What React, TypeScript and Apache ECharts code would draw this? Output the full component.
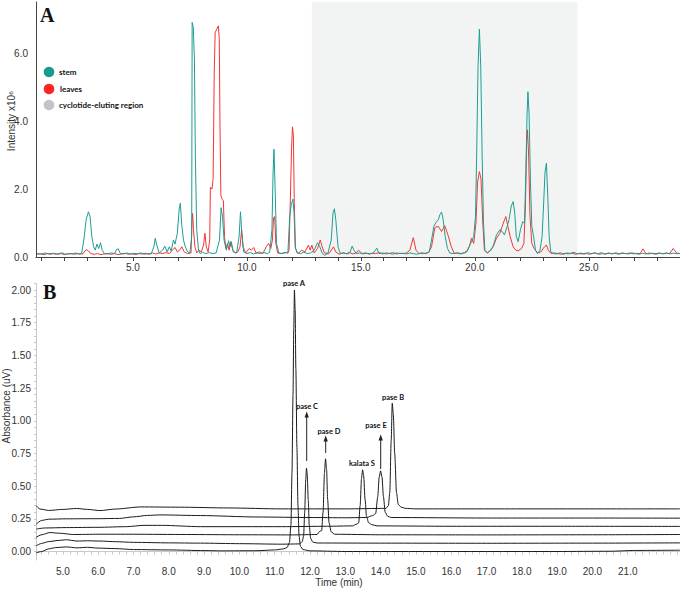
import React, { useEffect, useRef } from "react";
import * as echarts from "echarts";

// ---------- Panel A data (time in min, intensity x10^6) ----------
const stemPoints: number[][] = [
  [0.8,0.1],[1.0,0.08],[1.15,0.12],[1.3,0.09],[1.45,0.11],[1.6,0.08],[1.75,0.1],[1.9,0.12],[2.05,0.08],[2.2,0.1],[2.35,0.09],[2.5,0.12],[2.65,0.08],[2.75,0.1],
  [2.85,0.5],[2.95,1.1],[3.05,1.33],[3.12,1.2],[3.2,0.6],[3.28,0.3],[3.35,0.2],[3.42,0.38],[3.5,0.25],[3.58,0.42],[3.65,0.2],[3.75,0.1],
  [3.9,0.09],[4.05,0.12],[4.2,0.1],[4.28,0.22],[4.36,0.24],[4.45,0.1],[4.6,0.09],[4.75,0.12],[4.9,0.08],[5.05,0.11],[5.2,0.09],[5.35,0.12],[5.5,0.08],[5.65,0.1],[5.8,0.09],
  [5.92,0.3],[5.98,0.55],[6.05,0.35],[6.15,0.12],[6.3,0.2],[6.4,0.32],[6.5,0.15],[6.6,0.3],[6.68,0.18],[6.78,0.5],[6.85,0.38],[6.95,0.7],[7.03,1.4],[7.08,1.58],[7.15,0.9],[7.22,0.5],[7.3,0.3],[7.4,0.15],[7.5,0.12],
  [7.58,0.6],[7.6,6.9],[7.65,6.75],[7.7,5.8],[7.74,3.0],[7.8,0.8],[7.88,0.2],[7.95,0.1],[8.05,0.14],[8.2,0.1],[8.35,0.13],[8.5,0.1],[8.65,0.12],
  [8.8,0.5],[8.87,1.45],[8.93,1.2],[9.0,0.5],[9.1,0.2],[9.2,0.48],[9.26,0.3],[9.32,0.45],[9.4,0.15],[9.55,0.12],[9.66,0.6],[9.72,1.33],[9.78,0.7],[9.86,0.15],
  [10.0,0.1],[10.15,0.13],[10.3,0.09],[10.45,0.12],[10.6,0.1],[10.75,0.13],[10.9,0.1],[11.0,0.14],[11.1,0.8],[11.15,2.5],[11.19,3.17],[11.24,2.0],[11.3,0.4],[11.4,0.12],[11.55,0.1],[11.7,0.13],[11.8,0.12],
  [11.88,1.2],[11.95,1.55],[12.02,1.7],[12.07,1.3],[12.12,0.3],[12.2,0.12],[12.35,0.1],[12.5,0.14],[12.65,0.1],[12.8,0.12],[12.95,0.2],[13.1,0.42],[13.2,0.3],[13.3,0.12],[13.4,0.05],[13.55,0.1],
  [13.7,0.5],[13.78,1.3],[13.84,1.42],[13.9,1.1],[14.0,0.3],[14.1,0.1],[14.25,0.12],[14.4,0.09],[14.52,0.13],[14.62,0.32],[14.7,0.2],[14.8,0.1],[14.95,0.12],[15.1,0.09],[15.25,0.11],[15.4,0.09],[15.55,0.12],[15.7,0.26],[15.8,0.1],
  [15.95,0.12],[16.1,0.09],[16.25,0.11],[16.4,0.08],[16.55,0.12],[16.7,0.1],[16.85,0.11],[17.0,0.09],[17.15,0.12],[17.3,0.1],[17.45,0.08],[17.6,0.11],[17.75,0.1],[17.9,0.12],[18.0,0.15],
  [18.1,0.5],[18.2,0.9],[18.3,1.02],[18.4,1.1],[18.47,1.25],[18.54,1.32],[18.6,1.15],[18.7,0.6],[18.8,0.25],[18.9,0.12],[19.05,0.1],[19.2,0.12],[19.35,0.09],[19.5,0.11],[19.65,0.15],[19.75,0.3],[19.85,0.45],[19.95,0.6],
  [20.03,1.2],[20.08,3.0],[20.14,5.6],[20.2,6.7],[20.26,5.6],[20.32,3.0],[20.38,1.0],[20.44,0.2],[20.55,0.12],[20.7,0.2],[20.82,0.35],[20.95,0.65],[21.1,0.8],[21.2,0.75],[21.3,0.65],[21.42,0.9],[21.5,1.1],[21.6,1.5],[21.68,1.63],[21.75,1.3],[21.82,0.6],[21.9,0.45],
  [22.0,0.8],[22.1,1.04],[22.18,1.0],[22.24,2.5],[22.29,4.2],[22.33,4.86],[22.38,4.2],[22.44,2.2],[22.5,0.9],[22.58,0.6],[22.66,0.2],[22.75,0.1],[22.86,0.2],[22.95,0.6],[23.02,1.6],[23.08,2.5],[23.14,2.76],[23.2,1.8],[23.26,0.6],[23.33,0.15],[23.45,0.1],
  [23.6,0.09],[23.75,0.13],[23.9,0.08],[24.05,0.12],[24.2,0.1],[24.35,0.14],[24.5,0.09],[24.65,0.12],[24.8,0.08],[24.95,0.13],[25.1,0.1],[25.25,0.12],[25.4,0.09],[25.55,0.13],[25.7,0.08],[25.85,0.12],[26.0,0.09],[26.15,0.11],
  [26.3,0.08],[26.45,0.12],[26.6,0.1],[26.75,0.09],[26.9,0.12],[27.05,0.1],[27.2,0.08],[27.35,0.11],[27.5,0.09],[27.65,0.12],[27.8,0.1],[27.95,0.08],[28.1,0.11],[28.25,0.1],[28.4,0.12],[28.55,0.09],[28.7,0.11],[28.85,0.1],[29.0,0.1]
];

const leavesPoints: number[][] = [
  [0.8,0.08],[0.95,0.1],[1.1,0.07],[1.25,0.1],[1.4,0.08],[1.55,0.11],[1.7,0.08],[1.85,0.1],[2.0,0.07],[2.15,0.09],[2.3,0.1],[2.45,0.08],[2.6,0.1],[2.8,0.09],[2.95,0.22],[3.05,0.18],[3.15,0.1],
  [3.3,0.08],[3.45,0.1],[3.6,0.07],[3.75,0.09],[3.9,0.1],[4.05,0.08],[4.2,0.1],[4.35,0.07],[4.5,0.09],[4.65,0.11],[4.8,0.08],[4.95,0.1],[5.1,0.07],[5.25,0.1],[5.4,0.09],[5.55,0.11],[5.7,0.08],[5.85,0.12],[6.0,0.09],[6.15,0.12],[6.3,0.1],[6.45,0.13],[6.6,0.1],
  [6.7,0.18],[6.85,0.28],[6.95,0.15],[7.05,0.2],[7.15,0.3],[7.25,0.15],[7.4,0.1],[7.55,0.12],[7.59,1.0],[7.62,1.28],[7.66,0.8],[7.72,0.3],[7.8,0.12],[7.9,0.2],[8.0,0.15],[8.1,0.35],[8.16,0.7],[8.22,0.3],[8.3,0.15],
  [8.37,0.5],[8.4,2.05],[8.47,2.0],[8.52,2.3],[8.57,5.5],[8.61,6.6],[8.68,6.7],[8.75,6.8],[8.79,6.4],[8.82,3.9],[8.86,1.8],[8.92,1.7],[8.97,1.65],[9.02,0.6],[9.08,0.25],[9.15,0.4],[9.22,0.2],[9.3,0.45],[9.38,0.2],[9.5,0.12],[9.6,0.15],[9.7,0.3],[9.77,0.8],[9.83,0.3],[9.95,0.12],
  [10.1,0.25],[10.2,0.2],[10.3,0.28],[10.4,0.12],[10.55,0.15],[10.7,0.1],[10.85,0.3],[10.95,0.4],[11.05,0.25],[11.12,0.5],[11.17,1.15],[11.22,1.19],[11.27,0.4],[11.35,0.12],[11.5,0.1],[11.65,0.13],[11.8,0.12],[11.85,0.2],
  [11.9,1.5],[11.96,3.2],[12.0,3.83],[12.04,3.6],[12.08,1.6],[12.13,0.25],[12.25,0.1],[12.4,0.2],[12.55,0.15],[12.7,0.35],[12.78,0.2],[12.85,0.35],[12.95,0.12],[13.1,0.25],[13.22,0.5],[13.3,0.3],[13.4,0.12],[13.6,0.1],[13.8,0.3],[13.9,0.15],
  [14.05,0.08],[14.2,0.12],[14.35,0.1],[14.5,0.13],[14.65,0.09],[14.8,0.12],[14.9,0.2],[15.05,0.1],[15.2,0.12],[15.35,0.09],[15.5,0.11],[15.65,0.1],[15.8,0.13],[15.95,0.09],[16.1,0.12],[16.25,0.1],[16.4,0.13],[16.55,0.09],[16.7,0.11],[16.85,0.1],[17.0,0.12],
  [17.15,0.2],[17.3,0.57],[17.42,0.2],[17.55,0.1],[17.7,0.12],[17.85,0.1],[17.98,0.14],[18.1,0.3],[18.25,0.87],[18.4,0.9],[18.54,0.75],[18.68,0.92],[18.82,0.65],[18.97,0.3],[19.1,0.1],[19.25,0.12],[19.4,0.1],[19.55,0.13],[19.68,0.2],[19.78,0.35],[19.85,0.55],[19.95,0.4],
  [20.05,1.0],[20.12,2.2],[20.2,2.51],[20.27,2.3],[20.35,1.0],[20.42,0.2],[20.55,0.12],[20.7,0.2],[20.8,0.3],[20.95,0.55],[21.1,0.7],[21.25,1.0],[21.36,1.19],[21.45,0.9],[21.55,0.6],[21.68,0.3],[21.8,0.2],[21.9,0.18],[22.05,0.25],[22.15,0.4],
  [22.22,1.5],[22.27,3.3],[22.31,3.74],[22.36,3.0],[22.42,1.2],[22.5,0.4],[22.6,0.25],[22.75,0.12],[22.9,0.15],[23.05,0.3],[23.14,0.35],[23.22,0.2],[23.35,0.1],[23.5,0.12],
  [23.65,0.1],[23.8,0.08],[23.95,0.11],[24.1,0.09],[24.25,0.12],[24.4,0.08],[24.55,0.1],[24.7,0.09],[24.85,0.11],[25.0,0.08],[25.15,0.1],[25.3,0.12],[25.45,0.08],[25.6,0.1],[25.75,0.09],[25.9,0.11],[26.05,0.1],[26.2,0.12],[26.35,0.09],[26.5,0.11],
  [26.65,0.1],[26.8,0.12],[26.95,0.09],[27.1,0.11],[27.25,0.1],[27.38,0.24],[27.5,0.1],[27.65,0.09],[27.8,0.11],[27.95,0.1],[28.1,0.12],[28.25,0.09],[28.4,0.11],[28.55,0.1],[28.7,0.25],[28.85,0.12],[29.0,0.1]
];

const cyclotideRegion = [12.85, 24.5];
const aXLabels = [5, 10, 15, 20, 25];
const aXTicks = [1,2,3,4,5,6,7,8,9,10,11,12,13,14,15,16,17,18,19,20,21,22,23,24,25,26,27,28];
const aYLabels = [0, 2, 4, 6];

// ---------- Panel B data (time in min, absorbance) ----------
const traceA: number[][] = [
  [4.25,-0.01],[4.4,0.0],[4.6,0.02],[4.8,0.03],[5.1,0.035],[5.4,0.028],[5.7,0.032],[6.0,0.026],[6.5,0.022],[7.0,0.015],[8.0,0.012],[9.0,0.007],[9.5,0.005],[10.5,0.006],[11.0,0.012],[11.25,0.02],
  [11.35,0.03],[11.42,0.07],[11.46,0.2],[11.49,0.6],[11.52,1.2],[11.54,1.7],[11.56,2.0],[11.58,1.85],[11.6,1.4],[11.63,0.8],[11.66,0.35],[11.69,0.12],[11.73,0.04],[11.8,0.015],[12.0,0.005],
  [13.0,0.0],[15.0,0.0],[17.0,0.0],[19.0,0.0],[20.5,0.002],[21.2,0.008],[22.48,0.01]
];
const traceC: number[][] = [
  [4.25,0.045],[4.4,0.062],[4.6,0.076],[4.9,0.085],[5.1,0.09],[5.4,0.08],[5.7,0.082],[6.05,0.08],[6.5,0.075],[7.0,0.07],[8.0,0.066],[8.9,0.064],[10.0,0.06],[11.2,0.056],[11.7,0.058],
  [11.78,0.075],[11.82,0.12],[11.85,0.3],[11.88,0.55],[11.9,0.637],[11.92,0.6],[11.95,0.4],[11.98,0.2],[12.02,0.1],[12.08,0.072],[12.2,0.065],[14.0,0.064],[17.0,0.063],[20.0,0.064],[22.48,0.066]
];
const traceD: number[][] = [
  [4.25,0.11],[4.4,0.128],[4.63,0.145],[4.9,0.14],[5.3,0.13],[6.0,0.132],[7.0,0.132],[8.5,0.13],[10.0,0.128],[11.5,0.127],[12.2,0.13],[12.28,0.155],[12.33,0.16],
  [12.37,0.3],[12.41,0.6],[12.44,0.709],[12.47,0.63],[12.5,0.4],[12.54,0.22],[12.6,0.15],[12.7,0.132],[14.0,0.128],[17.0,0.127],[20.0,0.128],[22.48,0.13]
];
const traceK: number[][] = [
  [4.25,0.172],[4.5,0.18],[5.1,0.183],[6.0,0.185],[6.8,0.19],[7.3,0.2],[7.8,0.2],[8.9,0.19],[11.2,0.19],[12.5,0.193],[13.2,0.196],[13.33,0.21],[13.38,0.22],
  [13.42,0.35],[13.46,0.56],[13.49,0.625],[13.52,0.58],[13.56,0.4],[13.6,0.27],[13.66,0.22],[13.75,0.205],[13.9,0.196],[16.0,0.193],[19.0,0.193],[22.48,0.192]
];
const traceE: number[][] = [
  [4.25,0.21],[4.4,0.238],[4.6,0.247],[5.1,0.25],[6.0,0.251],[6.6,0.253],[7.0,0.265],[7.4,0.276],[7.75,0.28],[8.9,0.275],[10.5,0.264],[12.0,0.26],[13.0,0.258],[13.6,0.26],
  [13.78,0.275],[13.86,0.29],[13.92,0.42],[13.96,0.57],[14.0,0.617],[14.04,0.57],[14.08,0.42],[14.13,0.3],[14.2,0.27],[14.3,0.26],[17.0,0.256],[20.0,0.256],[22.48,0.255]
];
const traceB: number[][] = [
  [4.25,0.35],[4.35,0.325],[4.6,0.314],[5.0,0.322],[5.39,0.329],[5.7,0.322],[6.05,0.313],[6.5,0.325],[7.2,0.341],[8.3,0.339],[9.7,0.333],[11.2,0.326],[13.0,0.326],[14.15,0.33],
  [14.22,0.35],[14.26,0.45],[14.3,0.85],[14.33,1.134],[14.36,1.05],[14.4,0.75],[14.45,0.45],[14.5,0.36],[14.58,0.34],[14.7,0.33],[15.0,0.326],[18.0,0.326],[21.0,0.326],[22.48,0.326]
];
const bTraces = [traceA, traceC, traceD, traceK, traceE, traceB];
const bXLabels = [5,6,7,8,9,10,11,12,13,14,15,16,17,18,19,20,21];
const bYLabels = [0, 0.25, 0.5, 0.75, 1.0, 1.25, 1.5, 1.75, 2.0];

const STEM = "#1f9d92";
const LEAVES = "#f53535";
const LABEL_FONT = "Lato, 'Open Sans', sans-serif";
const AXIS_FONT = "'Liberation Sans', Arial, sans-serif";

function range(a: number, b: number, step: number): number[] {
  const out: number[] = [];
  for (let i = 0; a + i * step <= b + 1e-9; i++) out.push(Math.round((a + i * step) * 100) / 100);
  return out;
}

function txt(text: string, x: number, y: number, size: number, extra: any = {}) {
  return {
    type: "text",
    x,
    y,
    silent: true,
    style: {
      text,
      fontSize: size,
      fontWeight: "bold",
      fontFamily: LABEL_FONT,
      fill: "#111",
      align: "center",
      verticalAlign: "middle",
      ...extra,
    },
  };
}

function vArrow(x: number, y1: number, y2: number) {
  return [
    { type: "line", silent: true, shape: { x1: x, y1, x2: x, y2: y2 + 5 }, style: { stroke: "#222", lineWidth: 1 } },
    { type: "polygon", silent: true, shape: { points: [[x, y2], [x - 2.2, y2 + 6], [x + 2.2, y2 + 6]] }, style: { fill: "#222" } },
  ];
}

export default function App() {
  const ref = useRef<HTMLDivElement>(null);
  useEffect(() => {
    if (!ref.current) return;
    const chart = echarts.init(ref.current, undefined, { renderer: "svg" });
    const bXTicks = range(4.4, 22.4, 0.2);
    const bYTicks = range(0, 2.05, 0.05);

    const graphic: any[] = [
      // panel letters
      { type: "text", x: 40, y: 15, silent: true, style: { text: "A", fontSize: 20, fontWeight: "bold", fontFamily: "'Liberation Serif', 'DejaVu Serif', serif", fill: "#111", verticalAlign: "middle" } },
      { type: "text", x: 43, y: 292, silent: true, style: { text: "B", fontSize: 20, fontWeight: "bold", fontFamily: "'Liberation Serif', 'DejaVu Serif', serif", fill: "#111", verticalAlign: "middle" } },
      // axis titles
      { type: "text", x: 11, y: 121, rotation: Math.PI / 2, silent: true, style: { text: "Intensity x10⁶", fontSize: 10, fontFamily: AXIS_FONT, fill: "#333", align: "center", verticalAlign: "middle" } },
      { type: "text", x: 6, y: 406, rotation: Math.PI / 2, silent: true, style: { text: "Absorbance (uV)", fontSize: 10, fontFamily: AXIS_FONT, fill: "#333", align: "center", verticalAlign: "middle" } },
      { type: "text", x: 339, y: 582, silent: true, style: { text: "Time (min)", fontSize: 10, fontFamily: AXIS_FONT, fill: "#333", align: "center", verticalAlign: "middle" } },
      // legend
      { type: "circle", x: 49, y: 72, silent: true, shape: { r: 5.3 }, style: { fill: "#1a9a8c" } },
      { type: "circle", x: 49, y: 89, silent: true, shape: { r: 5.3 }, style: { fill: "#ff2424" } },
      { type: "circle", x: 49, y: 105, silent: true, shape: { r: 5.3 }, style: { fill: "#c4c4c8" } },
      txt("stem", 59, 72, 8, { align: "left" }),
      txt("leaves", 60, 89, 8, { align: "left" }),
      txt("cyclotide-eluting region", 59, 105, 8, { align: "left" }),
      // panel A annotations
      txt("pase A", 485, 22, 8.5),
      txt("pase B", 531, 82, 8.5),
      txt("pase C", 510, 193, 8.5),
      txt("pase D", 548, 155, 8.5),
      txt("pase E", 458, 159, 8.5),
      txt("kalata S", 460, 169, 8.5),
      { type: "line", silent: true, shape: { x1: 470.7, y1: 238, x2: 463.1, y2: 184 }, style: { stroke: "#222", lineWidth: 1 } },
      { type: "polygon", silent: true, shape: { points: [[462.3, 178.3], [465.3, 184.2], [460.9, 184.8]] }, style: { fill: "#222" } },
      // panel B annotations
      txt("pase A", 294, 283, 7.5),
      txt("pase C", 307, 406, 7.5),
      txt("pase D", 329, 431, 7.5),
      txt("pase E", 376, 425, 7.5),
      txt("pase B", 393, 397, 7.5),
      txt("kalata S", 362, 463, 7.5),
      ...vArrow(306.7, 461, 411.5),
      ...vArrow(325.7, 453, 435.5),
      ...vArrow(380.7, 469, 434.5),
    ];

    const option: any = {
      animation: false,
      backgroundColor: "#ffffff",
      grid: [
        { left: 36, top: 2, width: 644, height: 255 },
        { left: 36, top: 283.5, width: 644, height: 276.5 },
      ],
      xAxis: [
        {
          type: "value", gridIndex: 0, min: 0.75, max: 29,
          axisLine: { lineStyle: { color: "#444", width: 1 } },
          axisTick: { show: true, customValues: aXTicks, length: 4, inside: false, lineStyle: { color: "#444" } },
          axisLabel: { customValues: aXLabels, formatter: (v: number) => v.toFixed(1), fontSize: 10, color: "#333", fontFamily: AXIS_FONT, margin: 5 },
          splitLine: { show: false },
        },
        {
          type: "value", gridIndex: 1, min: 4.24, max: 22.48,
          axisLine: { lineStyle: { color: "#c8c8c8", width: 1 } },
          axisTick: { show: true, customValues: bXTicks, length: 3, lineStyle: { color: "#c8c8c8" } },
          axisLabel: { customValues: bXLabels, formatter: (v: number) => v.toFixed(1), fontSize: 10, color: "#333", fontFamily: AXIS_FONT, margin: 6 },
          splitLine: { show: false },
        },
      ],
      yAxis: [
        {
          type: "value", gridIndex: 0, min: 0, max: 7.5,
          axisLine: { show: true, lineStyle: { color: "#444", width: 1 } },
          axisTick: { show: false },
          axisLabel: { customValues: aYLabels, formatter: (v: number) => v.toFixed(1), fontSize: 10, color: "#333", fontFamily: AXIS_FONT, margin: 8 },
          splitLine: { show: false },
        },
        {
          type: "value", gridIndex: 1, min: -0.065, max: 2.05,
          axisLine: { show: true, lineStyle: { color: "#c8c8c8", width: 1 } },
          axisTick: { show: true, customValues: bYTicks, length: 2, lineStyle: { color: "#c8c8c8" } },
          axisLabel: { customValues: bYLabels, formatter: (v: number) => v.toFixed(2), fontSize: 10, color: "#333", fontFamily: AXIS_FONT, margin: 5 },
          splitLine: { show: false },
        },
      ],
      series: [
        {
          type: "line", xAxisIndex: 0, yAxisIndex: 0, data: [], z: 1, silent: true,
          markArea: {
            silent: true,
            itemStyle: { color: "#f2f4f3" },
            data: [[{ xAxis: cyclotideRegion[0] }, { xAxis: cyclotideRegion[1] }]],
          },
        },
        {
          name: "leaves", type: "line", xAxisIndex: 0, yAxisIndex: 0, data: leavesPoints, showSymbol: false, symbol: "none",
          lineStyle: { color: LEAVES, width: 1 }, itemStyle: { color: LEAVES }, z: 3,
        },
        {
          name: "stem", type: "line", xAxisIndex: 0, yAxisIndex: 0, data: stemPoints, showSymbol: false, symbol: "none",
          lineStyle: { color: STEM, width: 1 }, itemStyle: { color: STEM }, z: 4,
        },
        ...bTraces.map((d, i) => ({
          name: "trace" + i, type: "line", xAxisIndex: 1, yAxisIndex: 1, data: d, showSymbol: false, symbol: "none",
          smooth: 0.25, smoothMonotone: "x",
          lineStyle: { color: "#1a1a1a", width: 1 }, itemStyle: { color: "#1a1a1a" }, z: 3,
        })),
      ],
      graphic,
    };
    chart.setOption(option);
    return () => chart.dispose();
  }, []);

  return <div ref={ref} style={{ position: "fixed", left: 0, top: 0, width: 680, height: 589, background: "#fff" }} />;
}
